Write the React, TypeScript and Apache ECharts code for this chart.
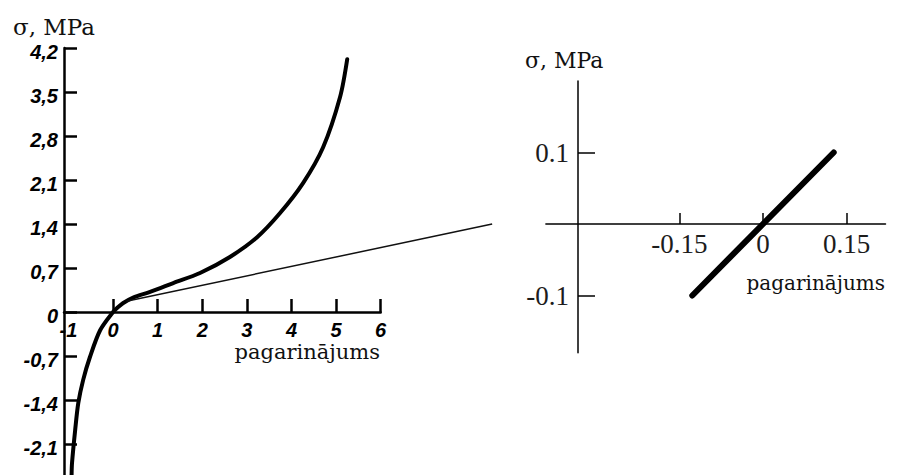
import React, { useEffect, useRef } from "react";
import * as echarts from "echarts";

// Rubber-like stress–strain curve (left panel)
const curveStrain = [-0.93, -0.92, -0.85, -0.78, -0.67, -0.52, -0.29, 0, 0.1, 0.22, 0.45, 0.83, 1.35, 1.95, 2.62, 3.23, 3.74, 4.26, 4.71, 5.09, 5.25];
const curveStress = [-2.6, -2.4, -1.88, -1.45, -1.08, -0.72, -0.29, 0, 0.07, 0.14, 0.23, 0.32, 0.46, 0.62, 0.875, 1.19, 1.57, 2.05, 2.62, 3.42, 4.02];

// Initial tangent (thin straight line)
const tangentStrain = [0.3, 8.5];
const tangentStress = [0.17, 1.4];

// Linear region near the origin (right panel)
const linearStrain = [-0.127, 0.127];
const linearStress = [-0.1, 0.1];

// Tick values
const leftYTicks = [-2.1, -1.4, -0.7, 0, 0.7, 1.4, 2.1, 2.8, 3.5, 4.2];
const leftXTicks = [0, 1, 2, 3, 4, 5, 6];
const leftXLabels = [-1, 0, 1, 2, 3, 4, 5, 6];
const rightXTicks = [-0.15, 0, 0.15];
const rightYTicks = [-0.1, 0.1];

const yTitle = "σ, MPa";
const xTitle = "pagarinājums";

const zip = (xs: number[], ys: number[]) => xs.map((x, i) => [x, ys[i]]);
const comma = (v: number) => String(v).replace(".", ",");

const SERIF = "'DejaVu Serif', serif";
const TIMES = "'Liberation Serif', 'Times New Roman', serif";
const ITALIC_SANS = "'Liberation Sans Narrow', 'Liberation Sans', sans-serif";

export default function App() {
  const ref = useRef<HTMLDivElement>(null);

  useEffect(() => {
    if (!ref.current) return;
    const chart = echarts.init(ref.current, undefined, { renderer: "svg" });

    // left panel scale: 44.6 px per strain unit, 62.857 px per MPa
    const kxL = 44.6;
    const kyL = 62.857;
    const lxMin = -1.1, lxMax = 6, lxMaxWide = 8.6;
    const lyMin = -2.6, lyMax = 4.2;
    const leftPx = 64, topPx = 48;
    const lHeight = (lyMax - lyMin) * kyL;
    const lZeroY = topPx + lyMax * kyL;

    // right panel scale
    const kxR = 556.7;
    const kyR = 715;
    const rxMin = -0.39, rxMax = 0.22;
    const ryMin = -0.18, ryMax = 0.2;
    const zeroXR = 763, zeroYR = 224;
    const rLeft = zeroXR + rxMin * kxR;
    const rTop = zeroYR - ryMax * kyR;
    const rHeight = (ryMax - ryMin) * kyR;
    const rYAxisPx = 578;

    const black = "#000";
    const labelDark = "#1c1c1c";

    const italicLabel = {
      fontFamily: ITALIC_SANS, fontWeight: "bold", fontStyle: "italic",
      fontSize: 20, lineHeight: 14, color: black,
    };

    chart.setOption({
      animation: false,
      backgroundColor: "#fff",
      grid: [
        {
          left: leftPx, top: topPx,
          width: (lxMax - lxMin) * kxL, height: lHeight,
          containLabel: false, outerBoundsMode: "none",
        },
        {
          left: leftPx, top: topPx,
          width: (lxMaxWide - lxMin) * kxL, height: lHeight,
          containLabel: false, outerBoundsMode: "none",
        },
        {
          left: rLeft, top: rTop,
          width: (rxMax - rxMin) * kxR, height: rHeight,
          containLabel: false, outerBoundsMode: "none",
        },
      ],
      xAxis: [
        {
          gridIndex: 0, type: "value", min: lxMin, max: lxMax, position: "bottom",
          offset: -(topPx + lHeight - lZeroY),
          axisLine: { show: true, onZero: false, lineStyle: { color: black, width: 2.5 } },
          axisTick: { show: true, inside: true, length: 13, customValues: leftXTicks, lineStyle: { color: black, width: 2.5 } },
          axisLabel: {
            show: true, customValues: leftXLabels, margin: 11,
            formatter: (v: number) => comma(v),
            ...italicLabel,
          },
          splitLine: { show: false },
        },
        { gridIndex: 1, type: "value", min: lxMin, max: lxMaxWide, show: false },
        {
          gridIndex: 2, type: "value", min: rxMin, max: rxMax, position: "bottom",
          offset: -(rTop + rHeight - zeroYR),
          axisLine: { show: true, onZero: false, lineStyle: { color: black, width: 1.5 } },
          axisTick: { show: true, inside: true, length: 11, customValues: rightXTicks, lineStyle: { color: black, width: 1.5 } },
          axisLabel: {
            show: true, customValues: rightXTicks, margin: 6,
            formatter: (v: number) => String(v),
            fontFamily: TIMES, fontSize: 27, color: labelDark,
          },
          splitLine: { show: false },
        },
      ],
      yAxis: [
        {
          gridIndex: 0, type: "value", min: lyMin, max: lyMax,
          axisLine: { show: true, onZero: false, lineStyle: { color: black, width: 2.5 } },
          axisTick: { show: true, inside: true, length: 13, customValues: leftYTicks, lineStyle: { color: black, width: 2.5 } },
          axisLabel: {
            show: true, customValues: leftYTicks, margin: 6,
            formatter: (v: number) => comma(v),
            ...italicLabel,
            lineHeight: 8, verticalAlign: "top",
          },
          splitLine: { show: false },
        },
        { gridIndex: 1, type: "value", min: lyMin, max: lyMax, show: false },
        {
          gridIndex: 2, type: "value", min: ryMin, max: ryMax,
          offset: -(rYAxisPx - rLeft),
          axisLine: { show: true, onZero: false, lineStyle: { color: black, width: 1.5 } },
          axisTick: { show: true, inside: true, length: 17, customValues: rightYTicks, lineStyle: { color: black, width: 1.5 } },
          axisLabel: {
            show: true, customValues: rightYTicks, margin: 9,
            formatter: (v: number) => String(v),
            fontFamily: TIMES, fontSize: 27, color: labelDark,
          },
          splitLine: { show: false },
        },
      ],
      series: [
        {
          type: "line", xAxisIndex: 0, yAxisIndex: 0,
          data: zip(curveStrain, curveStress),
          smooth: 0.3, showSymbol: false, symbol: "none",
          lineStyle: { color: black, width: 4, cap: "round", join: "round" },
        },
        {
          type: "line", xAxisIndex: 1, yAxisIndex: 1,
          data: zip(tangentStrain, tangentStress),
          showSymbol: false, symbol: "none",
          lineStyle: { color: "#111", width: 1.5 },
        },
        {
          type: "line", xAxisIndex: 2, yAxisIndex: 2,
          data: zip(linearStrain, linearStress),
          showSymbol: false, symbol: "none",
          lineStyle: { color: black, width: 6, cap: "round" },
        },
      ],
      graphic: [
        {
          type: "text", left: 13, top: 15,
          style: { text: yTitle, font: `23px ${SERIF}`, lineHeight: 20, fill: "#111" },
        },
        {
          type: "text", right: 898 - 380, top: 341,
          style: { text: xTitle, font: `21px ${SERIF}`, lineHeight: 21, fill: "#111" },
        },
        {
          type: "text", left: 525, top: 49,
          style: { text: yTitle, font: `22px ${SERIF}`, lineHeight: 22, fill: "#111" },
        },
        {
          type: "text", right: 898 - 885, top: 273,
          style: { text: xTitle, font: `20px ${SERIF}`, lineHeight: 20, fill: "#111" },
        },
      ],
    });

    return () => chart.dispose();
  }, []);

  return (
    <div
      ref={ref}
      style={{ position: "absolute", left: 0, top: 0, width: 898, height: 475, background: "#fff" }}
    />
  );
}
